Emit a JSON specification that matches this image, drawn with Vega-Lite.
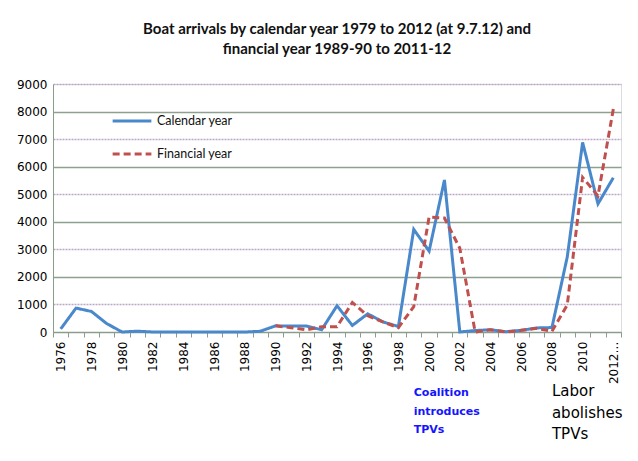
{
  "$schema": "https://vega.github.io/schema/vega-lite/v6.json",
  "width": 568,
  "height": 248,
  "padding": {"left": 16, "top": 22, "right": 5, "bottom": 5},
  "background": "white",
  "title": {
    "text": ["Boat arrivals by calendar year 1979 to 2012 (at 9.7.12) and", "financial year  1989-90 to 2011-12"],
    "font": "Lato",
    "fontSize": 15,
    "fontWeight": "bold",
    "color": "#111111",
    "lineHeight": 20,
    "anchor": "middle",
    "offset": 21
  },
  "datasets": {
    "series": [
      {"year": "1976", "series": "Calendar year", "value": 110},
      {"year": "1977", "series": "Calendar year", "value": 868},
      {"year": "1978", "series": "Calendar year", "value": 746},
      {"year": "1979", "series": "Calendar year", "value": 305},
      {"year": "1980", "series": "Calendar year", "value": 0},
      {"year": "1981", "series": "Calendar year", "value": 30},
      {"year": "1982", "series": "Calendar year", "value": 0},
      {"year": "1983", "series": "Calendar year", "value": 0},
      {"year": "1984", "series": "Calendar year", "value": 0},
      {"year": "1985", "series": "Calendar year", "value": 0},
      {"year": "1986", "series": "Calendar year", "value": 0},
      {"year": "1987", "series": "Calendar year", "value": 0},
      {"year": "1988", "series": "Calendar year", "value": 0},
      {"year": "1989", "series": "Calendar year", "value": 26},
      {"year": "1990", "series": "Calendar year", "value": 224},
      {"year": "1991", "series": "Calendar year", "value": 214},
      {"year": "1992", "series": "Calendar year", "value": 216},
      {"year": "1993", "series": "Calendar year", "value": 81},
      {"year": "1994", "series": "Calendar year", "value": 953},
      {"year": "1995", "series": "Calendar year", "value": 237},
      {"year": "1996", "series": "Calendar year", "value": 660},
      {"year": "1997", "series": "Calendar year", "value": 365},
      {"year": "1998", "series": "Calendar year", "value": 200},
      {"year": "1999", "series": "Calendar year", "value": 3721},
      {"year": "2000", "series": "Calendar year", "value": 2939},
      {"year": "2001", "series": "Calendar year", "value": 5516},
      {"year": "2002", "series": "Calendar year", "value": 1},
      {"year": "2003", "series": "Calendar year", "value": 53},
      {"year": "2004", "series": "Calendar year", "value": 82},
      {"year": "2005", "series": "Calendar year", "value": 11},
      {"year": "2006", "series": "Calendar year", "value": 60},
      {"year": "2007", "series": "Calendar year", "value": 148},
      {"year": "2008", "series": "Calendar year", "value": 161},
      {"year": "2009", "series": "Calendar year", "value": 2726},
      {"year": "2010", "series": "Calendar year", "value": 6879},
      {"year": "2011", "series": "Calendar year", "value": 4650},
      {"year": "2012 (at 9.7.12)", "series": "Calendar year", "value": 5600},
      {"year": "1990", "series": "Financial year", "value": 224},
      {"year": "1991", "series": "Financial year", "value": 158},
      {"year": "1992", "series": "Financial year", "value": 78},
      {"year": "1993", "series": "Financial year", "value": 194},
      {"year": "1994", "series": "Financial year", "value": 194},
      {"year": "1995", "series": "Financial year", "value": 1071},
      {"year": "1996", "series": "Financial year", "value": 589},
      {"year": "1997", "series": "Financial year", "value": 365},
      {"year": "1998", "series": "Financial year", "value": 157},
      {"year": "1999", "series": "Financial year", "value": 921},
      {"year": "2000", "series": "Financial year", "value": 4175},
      {"year": "2001", "series": "Financial year", "value": 4137},
      {"year": "2002", "series": "Financial year", "value": 3039},
      {"year": "2003", "series": "Financial year", "value": 0},
      {"year": "2004", "series": "Financial year", "value": 82},
      {"year": "2005", "series": "Financial year", "value": 0},
      {"year": "2006", "series": "Financial year", "value": 61},
      {"year": "2007", "series": "Financial year", "value": 133},
      {"year": "2008", "series": "Financial year", "value": 25},
      {"year": "2009", "series": "Financial year", "value": 985},
      {"year": "2010", "series": "Financial year", "value": 5609},
      {"year": "2011", "series": "Financial year", "value": 4940},
      {"year": "2012 (at 9.7.12)", "series": "Financial year", "value": 8092}
    ],
    "notes": [
      {"year": "1999", "value": -2000, "note": "Coalition\nintroduces\nTPVs", "who": "coalition"},
      {"year": "2008", "value": -1900, "note": "Labor\nabolishes\nTPVs", "who": "labor"}
    ]
  },
  "encoding": {
    "x": {
      "field": "year",
      "type": "ordinal",
      "sort": null,
      "scale": {"paddingInner": 0, "paddingOuter": 0},
      "axis": {
        "title": null,
        "tickBand": "extent",
        "labelAngle": -90,
        "labelFont": "DejaVu Sans",
        "labelFontSize": 12,
        "labelColor": "#000000",
        "labelLimit": 44,
        "labelExpr": "parseInt(datum.value) % 2 == 0 ? datum.value : ''",
        "labelPadding": 4,
        "domainColor": "#8c9c8c",
        "tickColor": "#8c9c8c",
        "tickSize": 5,
        "grid": false
      }
    },
    "y": {
      "field": "value",
      "type": "quantitative",
      "scale": {"domain": [0, 9000], "nice": false},
      "axis": {
        "title": null,
        "values": [0, 1000, 2000, 3000, 4000, 5000, 6000, 7000, 8000, 9000],
        "format": "d",
        "labelFont": "DejaVu Sans",
        "labelFontSize": 12,
        "labelColor": "#000000",
        "labelPadding": 6,
        "ticks": false,
        "domain": true,
        "domainColor": "#8c9c8c",
        "grid": true,
        "gridColor": {"condition": {"test": "datum.value % 2000 === 0", "value": "#8ea08e"}, "value": "#b8a8c4"},
        "gridDash": {"condition": {"test": "datum.value % 2000 === 0", "value": []}, "value": [2, 1]},
        "gridWidth": 1.3
      }
    }
  },
  "layer": [
    {
      "data": {"name": "series"},
      "mark": {"type": "line", "strokeWidth": 3},
      "encoding": {
        "color": {
          "field": "series",
          "type": "nominal",
          "scale": {"domain": ["Calendar year", "Financial year"], "range": ["#4a88cc", "#c0504d"]},
          "legend": {
            "title": null,
            "orient": "none",
            "legendX": 58,
            "legendY": 16,
            "symbolType": "stroke",
            "symbolSize": 1500,
            "symbolStrokeWidth": 3,
            "labelFont": "Lato",
            "labelFontSize": 12.5,
            "labelColor": "#111111",
            "rowPadding": 5,
            "labelOffset": 4
          }
        },
        "strokeDash": {
          "field": "series",
          "type": "nominal",
          "scale": {"domain": ["Calendar year", "Financial year"], "range": [[1, 0], [7, 4]]},
          "legend": null
        }
      }
    },
    {
      "data": {"name": "notes"},
      "transform": [{"filter": "datum.who === 'coalition'"}],
      "mark": {"type": "text", "align": "left", "baseline": "top", "fontWeight": "bold", "lineBreak": "\n", "lineHeight": 18.5, "font": "DejaVu Sans", "fontSize": 11, "color": "#1414ff"},
      "encoding": {
        "text": {"field": "note"}
      }
    },
    {
      "data": {"name": "notes"},
      "transform": [{"filter": "datum.who === 'labor'"}],
      "mark": {"type": "text", "align": "left", "baseline": "top", "lineBreak": "\n", "lineHeight": 21.5, "font": "DejaVu Sans", "fontSize": 15, "color": "#000000"},
      "encoding": {
        "text": {"field": "note"}
      }
    }
  ]
}
